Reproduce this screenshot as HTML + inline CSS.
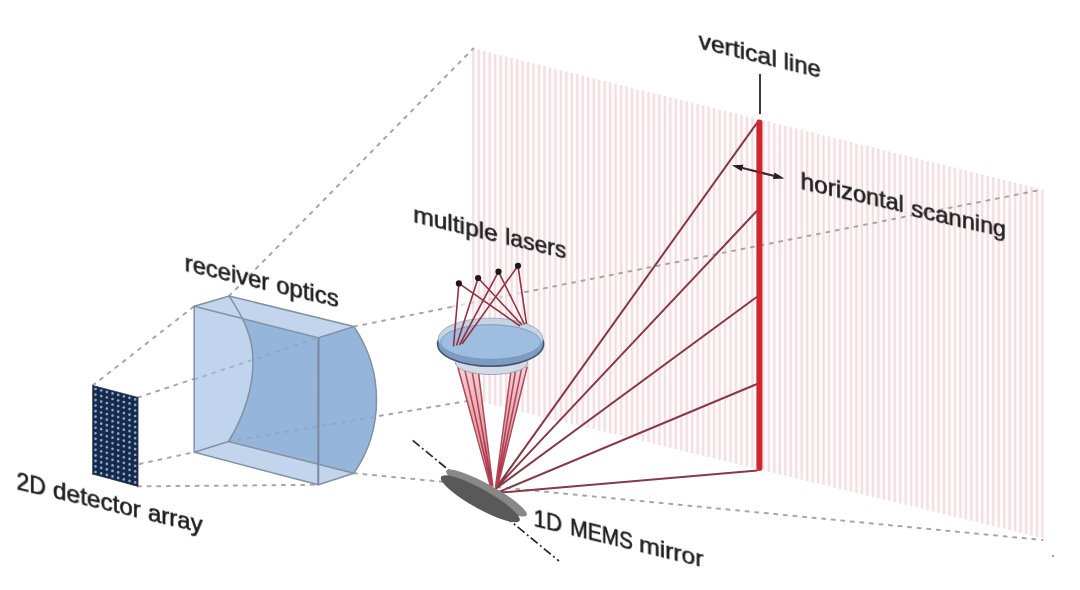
<!DOCTYPE html>
<html><head><meta charset="utf-8"><style>
html,body{margin:0;padding:0;background:#fff;}
#w{position:relative;width:1080px;height:590px;overflow:hidden;background:#fff;filter:blur(0.35px);}
svg{position:absolute;left:0;top:0;}
.t{position:absolute;left:0;top:0;transform-origin:0 0;font-family:"Liberation Sans",sans-serif;font-size:24px;line-height:1;white-space:nowrap;color:#1e1e1e;-webkit-text-stroke:0.6px #1e1e1e;}
</style></head><body><div id="w">
<svg width="1080" height="590" viewBox="0 0 1080 590">
<defs><filter id="bl" x="-1%" y="-1%" width="102%" height="102%"><feGaussianBlur stdDeviation="0.7"/></filter><linearGradient id="bg" gradientUnits="userSpaceOnUse" x1="0" y1="367" x2="0" y2="486"><stop offset="0" stop-color="#f3d0d4"/><stop offset="0.6" stop-color="#e39aa3"/><stop offset="1" stop-color="#c23a48"/></linearGradient></defs>
<polygon points="473.3,48.5 1042.5,189.5 1042.5,538.0 473.3,400.0" fill="#fefafb"/>
<path d="M473.30 48.50V400.00M478.77 49.86V401.33M484.25 51.21V402.65M489.72 52.57V403.98M495.19 53.92V405.31M500.67 55.28V406.63M506.14 56.63V407.96M511.61 57.99V409.29M517.08 59.35V410.62M522.56 60.70V411.94M528.03 62.06V413.27M533.50 63.41V414.60M538.98 64.77V415.92M544.45 66.12V417.25M549.92 67.48V418.58M555.40 68.84V419.90M560.87 70.19V421.23M566.34 71.55V422.56M571.82 72.90V423.88M577.29 74.26V425.21M582.76 75.62V426.54M588.23 76.97V427.87M593.71 78.33V429.19M599.18 79.68V430.52M604.65 81.04V431.85M610.13 82.39V433.17M615.60 83.75V434.50M621.07 85.11V435.83M626.55 86.46V437.15M632.02 87.82V438.48M637.49 89.17V439.81M642.97 90.53V441.13M648.44 91.88V442.46M653.91 93.24V443.79M659.38 94.60V445.12M664.86 95.95V446.44M670.33 97.31V447.77M675.80 98.66V449.10M681.28 100.02V450.42M686.75 101.38V451.75M692.22 102.73V453.08M697.70 104.09V454.40M703.17 105.44V455.73M708.64 106.80V457.06M714.12 108.15V458.38M719.59 109.51V459.71M725.06 110.87V461.04M730.53 112.22V462.37M736.01 113.58V463.69M741.48 114.93V465.02M746.95 116.29V466.35M752.43 117.64V467.67M757.90 119.00V469.00M763.37 120.36V470.33M768.85 121.71V471.65M774.32 123.07V472.98M779.79 124.42V474.31M785.27 125.78V475.63M790.74 127.13V476.96M796.21 128.49V478.29M801.68 129.85V479.62M807.16 131.20V480.94M812.63 132.56V482.27M818.10 133.91V483.60M823.58 135.27V484.92M829.05 136.62V486.25M834.52 137.98V487.58M840.00 139.34V488.90M845.47 140.69V490.23M850.94 142.05V491.56M856.42 143.40V492.88M861.89 144.76V494.21M867.36 146.12V495.54M872.83 147.47V496.87M878.31 148.83V498.19M883.78 150.18V499.52M889.25 151.54V500.85M894.73 152.89V502.17M900.20 154.25V503.50M905.67 155.61V504.83M911.15 156.96V506.15M916.62 158.32V507.48M922.09 159.67V508.81M927.57 161.03V510.13M933.04 162.38V511.46M938.51 163.74V512.79M943.98 165.10V514.12M949.46 166.45V515.44M954.93 167.81V516.77M960.40 169.16V518.10M965.88 170.52V519.42M971.35 171.88V520.75M976.82 173.23V522.08M982.30 174.59V523.40M987.77 175.94V524.73M993.24 177.30V526.06M998.72 178.65V527.38M1004.19 180.01V528.71M1009.66 181.37V530.04M1015.13 182.72V531.37M1020.61 184.08V532.69M1026.08 185.43V534.02M1031.55 186.79V535.35M1037.03 188.14V536.67M1042.50 189.50V538.00" stroke="#f2dfe4" stroke-width="2.3" fill="none" filter="url(#bl)"/>
<line x1="92.7" y1="385.5" x2="194.2" y2="306.2" stroke="#a6a6a6" stroke-width="2.0" stroke-dasharray="3 6.6" stroke-linecap="round" opacity="1"/>
<line x1="229.1" y1="296.0" x2="473.3" y2="48.5" stroke="#a6a6a6" stroke-width="2.0" stroke-dasharray="3 6.6" stroke-linecap="round" opacity="1"/>
<line x1="138" y1="397.4" x2="318.5" y2="337.8" stroke="#a6a6a6" stroke-width="2.0" stroke-dasharray="3 6.6" stroke-linecap="round" opacity="1"/>
<line x1="353.9" y1="326.6" x2="452" y2="306.8" stroke="#a6a6a6" stroke-width="2.0" stroke-dasharray="3 6.6" stroke-linecap="round" opacity="1"/>
<line x1="452" y1="306.8" x2="525" y2="292.1" stroke="#a6a6a6" stroke-width="2.0" stroke-dasharray="3 6.6" stroke-linecap="round" opacity="0.35"/>
<line x1="525" y1="292.1" x2="1042.5" y2="189.5" stroke="#a6a6a6" stroke-width="2.0" stroke-dasharray="3 6.6" stroke-linecap="round" opacity="1"/>
<line x1="92.7" y1="474" x2="194.2" y2="452.2" stroke="#a6a6a6" stroke-width="2.0" stroke-dasharray="3 6.6" stroke-linecap="round" opacity="1"/>
<line x1="228.5" y1="441.5" x2="473.3" y2="400" stroke="#a6a6a6" stroke-width="2.0" stroke-dasharray="3 6.6" stroke-linecap="round" opacity="1"/>
<line x1="138" y1="486.4" x2="318.3" y2="484.8" stroke="#a6a6a6" stroke-width="2.0" stroke-dasharray="3 6.6" stroke-linecap="round" opacity="1"/>
<line x1="353.9" y1="473.2" x2="1042.5" y2="540" stroke="#a6a6a6" stroke-width="2.0" stroke-dasharray="3 6.6" stroke-linecap="round" opacity="1"/>
<polygon points="194.2,306.2 318.5,337.8 318.3,484.8 194.2,452.2" fill="#c1d4ed"/>
<polygon points="194.2,452.2 228.5,441.5 353.9,473.2 318.3,484.8" fill="#c3d5ed"/>
<path d="M228.5,441.5 C245,415 253.5,385 253,360 C253,332 238,310 229.1,296 L353.9,326.6 A130 130 0 0 1 353.9,473.2 Z" fill="#95b5db"/>
<polygon points="194.2,306.2 229.1,296.0 353.9,326.6 318.5,337.8" fill="#c3d5ed"/>
<line x1="194.2" y1="379.4" x2="318.5" y2="337.8" stroke="#8c9cb4" stroke-width="2.0" stroke-dasharray="3 6.6" stroke-linecap="round" opacity="0.55"/>
<line x1="228.5" y1="441.5" x2="373" y2="417.2" stroke="#8c9cb4" stroke-width="2.0" stroke-dasharray="3 6.6" stroke-linecap="round" opacity="0.55"/>
<path d="M194.2,306.2 L318.5,337.8 L318.3,484.8 L194.2,452.2 Z" fill="none" stroke="#8290a4" stroke-width="1.5"/>
<path d="M194.2,306.2 L229.1,296.0 L353.9,326.6 M194.2,452.2 L228.5,441.5 L353.9,473.2" fill="none" stroke="#8290a4" stroke-width="1.5"/>
<path d="M318.5,337.8 L353.9,326.6 M318.3,484.8 L353.9,473.2" fill="none" stroke="#8290a4" stroke-width="1.5"/>
<path d="M353.9,326.6 A130 130 0 0 1 353.9,473.2" fill="none" stroke="#8290a4" stroke-width="1.5"/>
<path d="M318.5,337.8 L318.3,484.8" fill="none" stroke="#7a8aa2" stroke-width="1.9"/>
<path d="M229.1,296.0 C238,310 253,332 253,360 C253.5,385 245,415 228.5,441.5" fill="none" stroke="#8290a4" stroke-width="1.5"/>
<polygon points="92.7,385.5 138.0,397.4 138.0,486.4 92.7,474.0" fill="#172a4c" stroke="#2a2f3a" stroke-width="0.8"/>
<path d="M95.53 389.01h0.01M95.53 394.54h0.01M95.53 400.07h0.01M95.53 405.60h0.01M95.53 411.13h0.01M95.53 416.67h0.01M95.53 422.20h0.01M95.53 427.73h0.01M95.53 433.26h0.01M95.53 438.79h0.01M95.53 444.32h0.01M95.53 449.85h0.01M95.53 455.38h0.01M95.53 460.92h0.01M95.53 466.45h0.01M95.53 471.98h0.01M101.19 390.50h0.01M101.19 396.03h0.01M101.19 401.56h0.01M101.19 407.09h0.01M101.19 412.62h0.01M101.19 418.15h0.01M101.19 423.68h0.01M101.19 429.22h0.01M101.19 434.75h0.01M101.19 440.28h0.01M101.19 445.81h0.01M101.19 451.34h0.01M101.19 456.87h0.01M101.19 462.40h0.01M101.19 467.93h0.01M101.19 473.47h0.01M106.86 391.98h0.01M106.86 397.52h0.01M106.86 403.05h0.01M106.86 408.58h0.01M106.86 414.11h0.01M106.86 419.64h0.01M106.86 425.17h0.01M106.86 430.70h0.01M106.86 436.23h0.01M106.86 441.77h0.01M106.86 447.30h0.01M106.86 452.83h0.01M106.86 458.36h0.01M106.86 463.89h0.01M106.86 469.42h0.01M106.86 474.95h0.01M112.52 393.47h0.01M112.52 399.00h0.01M112.52 404.53h0.01M112.52 410.07h0.01M112.52 415.60h0.01M112.52 421.13h0.01M112.52 426.66h0.01M112.52 432.19h0.01M112.52 437.72h0.01M112.52 443.25h0.01M112.52 448.78h0.01M112.52 454.32h0.01M112.52 459.85h0.01M112.52 465.38h0.01M112.52 470.91h0.01M112.52 476.44h0.01M118.18 394.96h0.01M118.18 400.49h0.01M118.18 406.02h0.01M118.18 411.55h0.01M118.18 417.08h0.01M118.18 422.62h0.01M118.18 428.15h0.01M118.18 433.68h0.01M118.18 439.21h0.01M118.18 444.74h0.01M118.18 450.27h0.01M118.18 455.80h0.01M118.18 461.33h0.01M118.18 466.87h0.01M118.18 472.40h0.01M118.18 477.93h0.01M123.84 396.45h0.01M123.84 401.98h0.01M123.84 407.51h0.01M123.84 413.04h0.01M123.84 418.57h0.01M123.84 424.10h0.01M123.84 429.63h0.01M123.84 435.17h0.01M123.84 440.70h0.01M123.84 446.23h0.01M123.84 451.76h0.01M123.84 457.29h0.01M123.84 462.82h0.01M123.84 468.35h0.01M123.84 473.88h0.01M123.84 479.42h0.01M129.51 397.93h0.01M129.51 403.47h0.01M129.51 409.00h0.01M129.51 414.53h0.01M129.51 420.06h0.01M129.51 425.59h0.01M129.51 431.12h0.01M129.51 436.65h0.01M129.51 442.18h0.01M129.51 447.72h0.01M129.51 453.25h0.01M129.51 458.78h0.01M129.51 464.31h0.01M129.51 469.84h0.01M129.51 475.37h0.01M129.51 480.90h0.01M135.17 399.42h0.01M135.17 404.95h0.01M135.17 410.48h0.01M135.17 416.02h0.01M135.17 421.55h0.01M135.17 427.08h0.01M135.17 432.61h0.01M135.17 438.14h0.01M135.17 443.67h0.01M135.17 449.20h0.01M135.17 454.73h0.01M135.17 460.27h0.01M135.17 465.80h0.01M135.17 471.33h0.01M135.17 476.86h0.01M135.17 482.39h0.01" stroke="#88a8d0" stroke-width="2.7" stroke-linecap="round" fill="none"/>
<path d="M490.3,496.0 L757.0,122.8 M488.6,496.0 L757.0,210.8 M485.9,496.0 L757.0,296.8 M489.1,496.0 L757.0,384.0 M489.0,493.6 L757.5,470.5" stroke="#873946" stroke-width="2.0" fill="none"/>
<polygon points="457.8,367 478.0,369 492.0,486.0" fill="url(#bg)"/>
<polygon points="511.2,369 527.2,366 497.0,486.0" fill="url(#bg)"/>
<path d="M457.8 367.0 L490.5,486.5 M464.3 367.6 L491.3,486.5 M471.5 368.2 L492.1,486.5 M478.0 368.8 L492.9,486.5 M511.2 369.0 L495.5,487.0 M516.0 368.2 L496.2,487.0 M521.9 367.4 L496.9,487.0 M527.2 366.6 L497.6,487.0" stroke="#a83446" stroke-width="1.5" fill="none" opacity="0.9"/>
<ellipse cx="491.5" cy="363" rx="36" ry="11.5" fill="#d3dae3" stroke="#9aa5b3" stroke-width="1"/>
<ellipse cx="490.6" cy="344" rx="53" ry="22.3" fill="#7e9cc2" stroke="#3f5677" stroke-width="1.6"/>
<ellipse cx="490.6" cy="338.6" rx="52.3" ry="20.5" fill="#c5d3e3" stroke="#98a8bb" stroke-width="0.8"/>
<ellipse cx="490.6" cy="342" rx="50" ry="17.3" fill="#9dbde1" stroke="#7591b4" stroke-width="0.8"/>
<path d="M458.9,283.4 L453.5,346.5 M458.9,283.4 L520.0,326.0 M478.1,278.0 L456.5,345.5 M478.1,278.0 L522.0,325.0 M498.5,271.7 L459.5,345.0 M498.5,271.7 L524.5,324.5 M518.0,265.8 L462.0,344.0 M518.0,265.8 L526.5,324.0" stroke="#933342" stroke-width="1.6" fill="none"/>
<circle cx="458.9" cy="283.4" r="3.1" fill="#1a1a1a"/>
<circle cx="478.1" cy="278.0" r="3.1" fill="#1a1a1a"/>
<circle cx="498.5" cy="271.7" r="3.1" fill="#1a1a1a"/>
<circle cx="518.0" cy="265.8" r="3.1" fill="#1a1a1a"/>
<line x1="412.7" y1="440.4" x2="559" y2="561" stroke="#2a2a2a" stroke-width="1.7" stroke-dasharray="9 3 2 3"/>
<ellipse cx="0" cy="0" rx="46" ry="8.6" fill="#888888" transform="translate(486.5,493) rotate(29)"/>
<ellipse cx="0" cy="0" rx="45" ry="9.6" fill="#595959" transform="translate(480.3,498.8) rotate(29.2)"/>
<line x1="740" y1="167.4" x2="776" y2="176.4" stroke="#333" stroke-width="2"/>
<polygon points="784.4,178.5 772.9,179.1 774.6,172.5" fill="#222"/>
<polygon points="731.9,165.3 743.4,164.7 741.7,171.3" fill="#222"/>
<line x1="759.4" y1="122.5" x2="759.4" y2="468" stroke="#d0262c" stroke-width="6" stroke-linecap="round"/>
<line x1="740" y1="167.4" x2="776" y2="176.4" stroke="#5a1a20" stroke-width="2" opacity="0.5"/>
<line x1="760" y1="74" x2="760" y2="114" stroke="#3a3a3a" stroke-width="2"/>
<circle cx="1053" cy="556" r="0.9" fill="#777"/>
</svg>
<div class="t" style="transform:matrix3d(0.974852,0.245492,0,-6.89005e-05,5.68434e-15,0.980203,0,5.24454e-19,0,0,1,0,698.7,28.5959,0,1)">vertical</div>
<div class="t" style="transform:matrix3d(0.93695,0.235948,0,-6.62216e-05,-9.59051e-14,0.985815,0,-1.27929e-16,0,0,1,0,783.711,49.1602,0,1)">line</div>
<div class="t" style="transform:matrix3d(1.27904,0.293037,0,0.000320097,7.24834e-14,1.01266,0,8.62599e-17,0,0,1,0,800.678,168.614,0,1)">horizontal</div>
<div class="t" style="transform:matrix3d(1.31715,0.299823,0,0.000329635,9.09495e-14,0.977668,0,9.36693e-17,0,0,1,0,911.1,196.447,0,1)">scanning</div>
<div class="t" style="transform:matrix3d(1.02149,0.246127,0,1.44024e-17,-2.15049e-14,0.980203,0,-5.46583e-17,0,0,1,0,413.379,202.35,0,1)">multiple</div>
<div class="t" style="transform:matrix3d(0.952086,0.229403,0,-8.27634e-18,-3.13605e-14,0.980203,0,-6.27731e-17,0,0,1,0,505.348,224.51,0,1)">lasers</div>
<div class="t" style="transform:matrix3d(0.989721,0.235617,0,-2.67366e-17,-2.89545e-16,1.01234,0,-0,0,0,1,0,184.81,250.518,0,1)">receiver</div>
<div class="t" style="transform:matrix3d(0.995213,0.236925,0,-3.65618e-17,9.52172e-16,1.01234,0,-0,0,0,1,0,276.305,272.299,0,1)">optics</div>
<div class="t" style="transform:matrix3d(0.966958,0.327104,0,0.00020342,-4.57639e-17,1.02862,0,-0,0,0,1,0,16.5366,468.5,0,1)">2D</div>
<div class="t" style="transform:matrix3d(1.04241,0.352628,0,0.000219293,-1.28892e-15,1.02073,0,-1.0189e-17,0,0,1,0,52.8694,477.24,0,1)">detector</div>
<div class="t" style="transform:matrix3d(1.04317,0.352886,0,0.000219454,-3.12677e-16,1.0001,0,-0,0,0,1,0,147.89,500.098,0,1)">array</div>
<div class="t" style="transform:matrix3d(1.03163,0.32307,0,0.000180194,-3.51239e-15,0.988416,0,-0,0,0,1,0,533.565,506.003,0,1)">1D</div>
<div class="t" style="transform:matrix3d(0.981467,0.307361,0,0.000171432,-7.90357e-14,0.981457,0,-1.30438e-16,0,0,1,0,570.116,515.064,0,1)">MEMS</div>
<div class="t" style="transform:matrix3d(1.16698,0.365458,0,0.000203836,-1.23357e-13,0.968311,0,-1.85427e-16,0,0,1,0,639.164,532.18,0,1)">mirror</div>
</div></body></html>
